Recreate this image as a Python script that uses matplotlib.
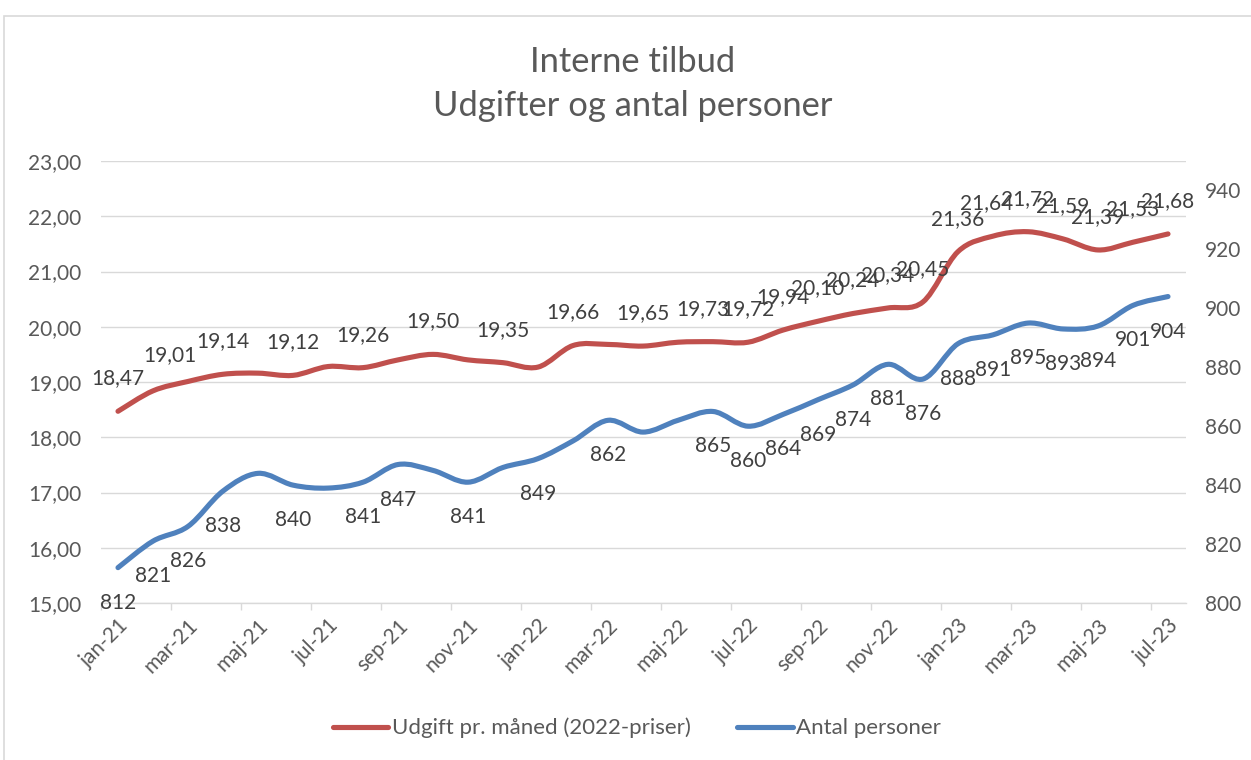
import numpy as np
import matplotlib
matplotlib.use("Agg")
import matplotlib.pyplot as plt
from matplotlib.path import Path
from matplotlib.patches import PathPatch, Rectangle
from matplotlib.lines import Line2D

plt.rcParams['font.family'] = ['Lato', 'DejaVu Sans']

# ---------------- data ----------------
months = ["jan-21", "feb-21", "mar-21", "apr-21", "maj-21", "jun-21", "jul-21", "aug-21",
          "sep-21", "okt-21", "nov-21", "dec-21", "jan-22", "feb-22", "mar-22", "apr-22",
          "maj-22", "jun-22", "jul-22", "aug-22", "sep-22", "okt-22", "nov-22", "dec-22",
          "jan-23", "feb-23", "mar-23", "apr-23", "maj-23", "jun-23", "jul-23"]
udgift = [18.47, 18.84, 19.01, 19.14, 19.16, 19.12, 19.28, 19.26, 19.40, 19.50, 19.40,
          19.35, 19.27, 19.66, 19.68, 19.65, 19.72, 19.73, 19.72, 19.94, 20.10, 20.24,
          20.34, 20.45, 21.36, 21.64, 21.72, 21.59, 21.39, 21.53, 21.68]
antal = [812, 821, 826, 838, 844, 840, 839, 841, 847, 845, 841, 846, 849, 855, 862, 858,
         862, 865, 860, 864, 869, 874, 881, 876, 888, 891, 895, 893, 894, 901, 904]
# which points carry a data label in the original
udgift_labelled = [1, 0, 1, 1, 0, 1, 0, 1, 0, 1, 0, 1, 0, 1, 0, 1, 0, 1, 1, 1, 1, 1, 1, 1,
                   1, 1, 1, 1, 1, 1, 1]
antal_labelled = [1, 1, 1, 1, 0, 1, 0, 1, 1, 0, 1, 0, 1, 0, 1, 0, 0, 1, 1, 1, 1, 1, 1, 1,
                  1, 1, 1, 1, 1, 1, 1]
series_names = ["Udgift pr. måned (2022-priser)", "Antal personer"]
title_lines = ["Interne tilbud", "Udgifter og antal personer"]

# ---------------- style ----------------
RED = "#C0504D"
BLUE = "#4F81BD"
GRID = "#D9D9D9"
TXT = "#595959"
LBL = "#404040"
W, H = 1251, 760
red_nudge = {2: (-18, -7), 17: (-10, 0), 25: (-6, 0)}   # pixel nudges of some labels


def smooth_path(xs, ys):
    pts = np.column_stack([xs, ys]).astype(float)
    n = len(pts)
    verts = [pts[0]]
    codes = [Path.MOVETO]
    for i in range(n - 1):
        p0 = pts[i - 1] if i > 0 else pts[i]
        p1 = pts[i]
        p2 = pts[i + 1]
        p3 = pts[i + 2] if i + 2 < n else pts[i + 1]
        c1 = p1 + (p2 - p0) / 6.0
        c2 = p2 - (p3 - p1) / 6.0
        verts += [c1, c2, p2]
        codes += [Path.CURVE4] * 3
    return Path(verts, codes)


fig = plt.figure(figsize=(W / 100, H / 100), dpi=100)
fig.patch.set_facecolor("white")
fig.patches.append(Rectangle((4 / W, -0.1), 1.2, 1 - 16 / H + 0.1, transform=fig.transFigure,
                             fill=False, edgecolor=GRID, lw=1.2))

ax = fig.add_axes([100.5 / W, 1 - 603 / H, 1085 / W, 442 / H])
ax2 = ax.twinx()

x = np.arange(len(months))
ax.set_xlim(-0.5, len(months) - 0.5)
ax.set_ylim(15, 23)
ax2.set_ylim(800, 950)

# lines
ax.add_patch(PathPatch(smooth_path(x, udgift), fill=False, edgecolor=RED, lw=3.7,
                       capstyle='round', joinstyle='round', zorder=3))
ax2.add_patch(PathPatch(smooth_path(x, antal), fill=False, edgecolor=BLUE, lw=3.7,
                        capstyle='round', joinstyle='round', zorder=3))

# data labels
for i, (v, show) in enumerate(zip(udgift, udgift_labelled)):
    if show:
        dx, dy = red_nudge.get(i, (0, 0))
        ax.annotate(f"{v:.2f}".replace(".", ","), (x[i], v),
                    xytext=(dx * 0.72, (33 + dy) * 0.72), textcoords="offset points",
                    ha="center", va="center", fontsize=15, color=LBL, zorder=5)
for i, (v, show) in enumerate(zip(antal, antal_labelled)):
    if show:
        ax2.annotate(f"{v}", (x[i], v), xytext=(0, -35 * 0.72), textcoords="offset points",
                     ha="center", va="center", fontsize=15, color=LBL, zorder=5)

# axes styling
for a in (ax, ax2):
    for s in ("top", "left", "right"):
        a.spines[s].set_visible(False)
ax2.spines["bottom"].set_visible(False)
ax.spines["bottom"].set_color(GRID)
ax.spines["bottom"].set_linewidth(1.0)

ax.set_yticks(np.arange(15, 23.01, 1))
ax.set_yticklabels([f"{v:.2f}".replace(".", ",") for v in np.arange(15, 23.01, 1)])
ax.tick_params(axis="y", length=0, pad=14, labelsize=15, labelcolor=TXT)
ax.grid(axis="y", color=GRID, lw=1.0)
ax.set_axisbelow(True)

ax2.set_yticks(np.arange(800, 941, 20))
ax2.tick_params(axis="y", length=0, pad=14, labelsize=15, labelcolor=TXT)

ax.set_xticks(x[::2])
ax.set_xticklabels(months[::2], rotation=45, ha="right", rotation_mode="anchor")
ax.tick_params(axis="x", which="major", length=0, pad=9, labelsize=15, labelcolor=TXT)
ax.set_xticks(np.arange(-0.5, len(months) - 1, 2), minor=True)
ax.tick_params(axis="x", which="minor", length=5, width=1.0, color=GRID, direction="out")

# titles
fig.text(633 / W, 1 - 62 / H, title_lines[0], ha="center", va="center", fontsize=24.8,
         color=TXT)
fig.text(633 / W, 1 - 106 / H, title_lines[1], ha="center", va="center", fontsize=24.8,
         color=TXT)

# legend
handles = [Line2D([], [], color=RED, lw=3.7, solid_capstyle="round"),
           Line2D([], [], color=BLUE, lw=3.7, solid_capstyle="round")]
fig.legend(handles, series_names, loc="center", bbox_to_anchor=(637 / W, 1 - 728 / H),
           ncol=2, frameon=False, fontsize=16, labelcolor=TXT, handlelength=2.5,
           handletextpad=0.15, columnspacing=2.1)

fig.savefig("out.png", dpi=100, facecolor="white")
